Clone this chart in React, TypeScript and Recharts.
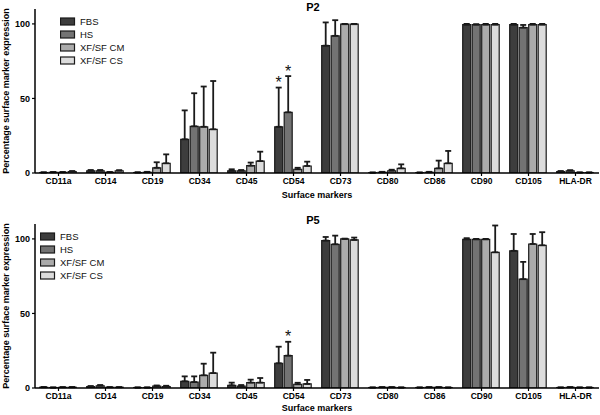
import { BarChart, Bar, XAxis, YAxis, ErrorBar, LabelList, Legend } from 'recharts';

const FONT = '"Liberation Sans", Arial, sans-serif';

const MARKERS = ['CD11a', 'CD14', 'CD19', 'CD34', 'CD45', 'CD54', 'CD73', 'CD80', 'CD86', 'CD90', 'CD105', 'HLA-DR'];

const SERIES = [
  { key: 'fbs', name: 'FBS', color: '#3d3d3d' },
  { key: 'hs', name: 'HS', color: '#737373' },
  { key: 'cm', name: 'XF/SF CM', color: '#ababab' },
  { key: 'cs', name: 'XF/SF CS', color: '#dcdcdc' },
];

const Y_TICKS = [0, 50, 100];

// P2 means and upper SD
const P2_FBS = [0.3, 1.5, 0.3, 22.6, 1.5, 31, 85.4, 0.2, 0.2, 99.5, 99.5, 1.0];
const P2_FBS_ERR = [0.2, 0.5, 0.2, 19.4, 1, 26.3, 15.6, 0.2, 0.2, 0.5, 0.5, 0.3];
const P2_HS = [0.5, 1.5, 0.5, 31.3, 1.5, 40.7, 92, 0.5, 0.5, 99.5, 97.5, 1.5];
const P2_HS_ERR = [0.2, 0.5, 0.3, 22.2, 0.5, 24.3, 10.5, 0.3, 0.3, 0.3, 1.8, 0.4];
const P2_CM = [0.5, 0.5, 3.5, 31, 4.9, 2.5, 99.8, 1.5, 3.1, 99.5, 99.5, 0.3];
const P2_CM_ERR = [0.2, 0.2, 3.7, 27, 2.1, 1.0, 0.2, 0.7, 5.2, 0.5, 0.5, 0.1];
const P2_CS = [1, 1.5, 6.5, 29.3, 8, 4.7, 99.8, 3.1, 6.5, 99.5, 99.5, 0.3];
const P2_CS_ERR = [0.3, 0.4, 6, 32.4, 6.3, 2.9, 0.2, 2.7, 8.3, 0.5, 0.5, 0.1];

// P5 means and upper SD
const P5_FBS = [0.5, 1, 0.3, 4.5, 1.8, 16.6, 98.9, 0.3, 0.3, 99.7, 92, 0.3];
const P5_FBS_ERR = [0.2, 0.3, 0.1, 3.3, 1.8, 11.1, 2.4, 0.1, 0.1, 0.8, 11.3, 0.1];
const P5_HS = [0.3, 1.5, 0.3, 4, 1.3, 21.7, 96.4, 0.5, 0.5, 99.7, 73, 0.5];
const P5_HS_ERR = [0.1, 0.5, 0.1, 3.8, 0.7, 9.3, 5.8, 0.1, 0.1, 0.3, 11.6, 0.1];
const P5_CM = [0.5, 0.5, 1.2, 8.5, 3.6, 2.5, 100, 0.5, 0.5, 99.7, 96.6, 0.3];
const P5_CM_ERR = [0.1, 0.1, 0.5, 7.8, 2, 1, 0.2, 0.1, 0.1, 0.3, 6.7, 0.1];
const P5_CS = [0.5, 0.5, 1, 10, 3.6, 2.7, 99.3, 0.3, 0.3, 91, 95.7, 0.3];
const P5_CS_ERR = [0.2, 0.1, 0.5, 13.7, 3.1, 2.7, 1.6, 0.1, 0.1, 18, 8.8, 0.1];

// significance asterisks per series
const P2_STARS: Record<string, string[]> = { fbs: ['CD54'], hs: ['CD54'], cm: [], cs: [] };
const P5_STARS: Record<string, string[]> = { fbs: [], hs: ['CD54'], cm: [], cs: [] };

function buildRows(values: number[][], errors: number[][]) {
  return MARKERS.map((marker, i) => {
    const row: any = { marker };
    SERIES.forEach((s, j) => {
      row[s.key] = values[j][i];
      row[s.key + 'Err'] = [0, errors[j][i]];
    });
    return row;
  });
}

const P2_ROWS = buildRows([P2_FBS, P2_HS, P2_CM, P2_CS], [P2_FBS_ERR, P2_HS_ERR, P2_CM_ERR, P2_CS_ERR]);
const P5_ROWS = buildRows([P5_FBS, P5_HS, P5_CM, P5_CS], [P5_FBS_ERR, P5_HS_ERR, P5_CM_ERR, P5_CS_ERR]);

function renderLegend() {
  return (
    <svg width={90} height={56} style={{ display: 'block' }}>
      {SERIES.map((s, i) => (
        <g key={s.key}>
          <rect x={0.5} y={3 + i * 13} width={14} height={7} fill={s.color} stroke="#1a1a1a" strokeWidth={1.2} />
          <text x={20} y={10 + i * 13} fontSize={9.5} fontFamily={FONT} fill="#111">
            {s.name}
          </text>
        </g>
      ))}
    </svg>
  );
}

const renderYLabel = (props: any) => {
  const vb = props.viewBox || {};
  const cy = vb.y + vb.height / 2;
  return (
    <text
      transform={`translate(6, ${cy}) rotate(-90)`}
      textAnchor="middle"
      dominantBaseline="central"
      fontSize={9}
      fontWeight="bold"
      fontFamily={FONT}
      fill="#000"
    >
      Percentage surface marker expression
    </text>
  );
};

function makeXLabel(dy: number) {
  return (props: any) => {
    const vb = props.viewBox || {};
    return (
      <text
        x={vb.x + vb.width / 2}
        y={vb.y + dy}
        textAnchor="middle"
        dominantBaseline="central"
        fontSize={9}
        fontWeight="bold"
        fontFamily={FONT}
        fill="#000"
      >
        Surface markers
      </text>
    );
  };
}

function makeStar(key: string, starred: string[], rows: any[]) {
  return (props: any) => {
    const { x, y, width, height, index } = props;
    const row = rows[index];
    if (!row || !starred.includes(row.marker)) return null;
    const v = row[key];
    const err = row[key + 'Err'][1];
    const top = y - (err * height) / v;
    return (
      <text x={x + width / 2} y={top + 0.5} textAnchor="middle" fontSize={16} fontFamily={FONT} fill="#111">
        *
      </text>
    );
  };
}

function Panel({ title, rows, stars, height, marginTop, xLabelDy, legendLeft, legendTop, titleTop }: any) {
  return (
    <div style={{ position: 'relative', width: 600, height }}>
      <BarChart
        width={600}
        height={height}
        data={rows}
        margin={{ top: marginTop, right: 1, bottom: 0, left: 0 }}
        barCategoryGap="10%"
        barGap={1.5}
      >
        <XAxis
          dataKey="marker"
          height={height - marginTop - 164}
          tickSize={3}
          tickLine={{ stroke: '#000', strokeWidth: 1.2 }}
          axisLine={{ stroke: '#000', strokeWidth: 1.5 }}
          tick={{ fontSize: 8.5, fontWeight: 'bold', fill: '#000', fontFamily: FONT }}
          interval={0}
          label={makeXLabel(xLabelDy)}
        />
        <YAxis
          width={35}
          domain={[0, 110]}
          ticks={Y_TICKS}
          tickSize={3}
          tickLine={{ stroke: '#000', strokeWidth: 1.2 }}
          axisLine={{ stroke: '#000', strokeWidth: 1.5 }}
          tick={{ fontSize: 9, fontWeight: 'bold', fill: '#000', fontFamily: FONT }}
          allowDataOverflow
          label={renderYLabel}
        />
        <Legend
          layout="vertical"
          align="center"
          verticalAlign="middle"
          content={renderLegend}
          wrapperStyle={{ left: legendLeft, top: legendTop, width: 90, height: 56 }}
        />
        {SERIES.map((s) => (
          <Bar
            key={s.key}
            dataKey={s.key}
            name={s.name}
            fill={s.color}
            stroke="#1a1a1a"
            strokeWidth={1.2}
            isAnimationActive={false}
          >
            <ErrorBar dataKey={s.key + 'Err'} direction="y" width={3} stroke="#1a1a1a" strokeWidth={1.8} />
            <LabelList dataKey={s.key} content={makeStar(s.key, stars[s.key], rows)} />
          </Bar>
        ))}
      </BarChart>
      <div
        style={{
          position: 'absolute',
          left: 300,
          top: titleTop,
          width: 26,
          textAlign: 'center',
          fontFamily: FONT,
          fontWeight: 'bold',
          fontSize: 11,
          lineHeight: '12px',
          color: '#000',
        }}
      >
        {title}
      </div>
    </div>
  );
}

export default function App() {
  return (
    <div style={{ position: 'absolute', left: 0, top: 0, width: 600, height: 415, background: '#fff' }}>
      <Panel
        title="P2"
        rows={P2_ROWS}
        stars={P2_STARS}
        height={208}
        marginTop={9}
        xLabelDy={22}
        legendLeft={60}
        legendTop={15}
        titleTop={1}
      />
      <Panel
        title="P5"
        rows={P5_ROWS}
        stars={P5_STARS}
        height={207}
        marginTop={16}
        xLabelDy={20}
        legendLeft={40}
        legendTop={22}
        titleTop={6}
      />
    </div>
  );
}
